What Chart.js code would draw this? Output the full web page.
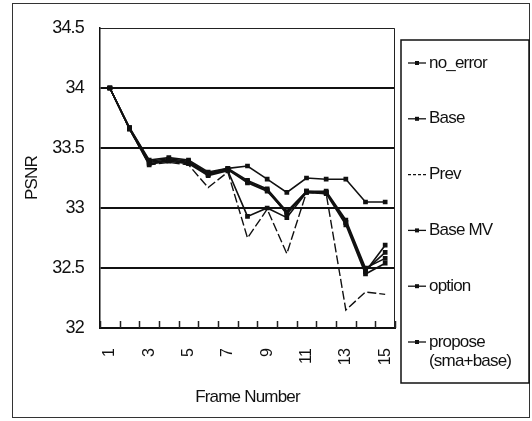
<!DOCTYPE html>
<html>
<head>
<meta charset="utf-8">
<script src="https://cdn.jsdelivr.net/npm/chart.js@4"></script>
<style>
  html, body { margin: 0; padding: 0; background: #fff; }
  #wrap { width: 532px; height: 421px; position: relative; }
</style>
</head>
<body>
<div id="wrap"><canvas id="psnr-graph"></canvas></div>
<script>
const frames = ['1', '2', '3', '4', '5', '6', '7', '8', '9', '10', '11', '12', '13', '14', '15'];
const yTicks = [32, 32.5, 33, 33.5, 34, 34.5];

const noError = [34.0, 33.67, 33.40, 33.42, 33.40, 33.30, 33.33, 33.35, 33.24, 33.13, 33.25, 33.24, 33.24, 33.05, 33.05];
const base    = [34.0, 33.66, 33.36, 33.40, 33.38, 33.28, 33.32, 33.22, 33.15, 32.95, 33.14, 33.13, 32.88, 32.47, 32.69];
const prev    = [34.0, 33.66, 33.36, 33.38, 33.36, 33.17, 33.30, 32.75, 32.99, 32.62, 33.13, 33.12, 32.15, 32.30, 32.28];
const baseMV  = [34.0, 33.66, 33.37, 33.39, 33.37, 33.27, 33.31, 32.93, 33.00, 32.92, 33.13, 33.12, 32.86, 32.45, 32.54];
const option  = [34.0, 33.66, 33.38, 33.40, 33.38, 33.28, 33.32, 33.21, 33.14, 32.96, 33.13, 33.13, 32.88, 32.48, 32.63];
const propose = [34.0, 33.67, 33.39, 33.41, 33.39, 33.29, 33.33, 33.23, 33.16, 32.97, 33.14, 33.14, 32.90, 32.50, 32.58];

const legendLabels = [['no_error'], ['Base'], ['Prev'], ['Base MV'], ['option'], ['propose', '(sma+base)']];

const FONT = "'Liberation Sans', Arial, sans-serif";

function series(label, data, dashed) {
    return {
        label,
        data,
        borderColor: '#111',
        backgroundColor: '#111',
        borderWidth: dashed ? 1.4 : 1.6,
        borderDash: dashed ? [9, 3] : [],
        pointRadius: dashed ? 0 : 2.2,
        pointStyle: 'rect',
        tension: 0
    };
}

// frame, inner ticks and legend box
const decor = {
    id: 'decor',
    beforeDraw(chart) {
        chart.ctx.letterSpacing = '-0.8px';
    },
    beforeDatasetsDraw(chart) {
        const {ctx, chartArea: a, scales: {x}} = chart;
        ctx.save();
        ctx.strokeStyle = '#222';
        ctx.lineWidth = 1;
        ctx.beginPath();
        ctx.moveTo(a.left, a.top + 0.5);
        ctx.lineTo(a.right - 0.5, a.top + 0.5);
        ctx.lineTo(a.right - 0.5, a.bottom);
        ctx.stroke();
        // small upward ticks at category boundaries
        const step = x.getPixelForValue(1) - x.getPixelForValue(0);
        ctx.lineWidth = 1.5;
        ctx.beginPath();
        for (let i = 0; i <= frames.length; i++) {
            const px = Math.round(x.getPixelForValue(i) - step / 2) + 0.5;
            ctx.moveTo(px, a.bottom);
            ctx.lineTo(px, a.bottom - 7);
        }
        ctx.stroke();
        ctx.restore();
    },
    afterDraw(chart) {
        const ctx = chart.ctx;
        ctx.save();
        ctx.strokeStyle = '#333';
        ctx.lineWidth = 1;
        ctx.strokeRect(12.5, 3.5, 517, 414);
        ctx.lineWidth = 1.5;
        ctx.strokeStyle = '#111';
        ctx.strokeRect(401, 40, 128, 343);

        ctx.font = '17px ' + FONT;
        ctx.fillStyle = '#111';
        ctx.textBaseline = 'middle';
        chart.data.datasets.forEach((ds, i) => {
            const y = 63 + i * 55.8;
            ctx.lineWidth = 1.3;
            ctx.setLineDash(ds.pointRadius > 0 ? [] : [3, 2]);
            ctx.beginPath();
            ctx.moveTo(408, y);
            ctx.lineTo(426, y);
            ctx.stroke();
            ctx.setLineDash([]);
            if (ds.pointRadius > 0) {
                ctx.fillRect(415, y - 2, 4, 4);
            }
            legendLabels[i].forEach((t, j) => ctx.fillText(t, 429, y + j * 19));
        });
        ctx.restore();
    }
};

new Chart(document.getElementById('psnr-graph'), {
    type: 'line',
    data: {
        labels: frames,
        datasets: [
            series('no_error', noError),
            series('Base', base),
            series('Prev', prev, true),
            series('Base MV', baseMV),
            series('option', option),
            series('propose (sma+base)', propose)
        ]
    },
    options: {
        responsive: true,
        maintainAspectRatio: false,
        animation: false,
        layout: {padding: {left: 12, right: 137, top: 28, bottom: 8}},
        plugins: {legend: {display: false}, tooltip: {enabled: false}},
        scales: {
            x: {
                offset: true,
                afterFit: s => { s.height = 85; },
                grid: {display: false, drawTicks: false},
                border: {display: true, color: '#111', width: 2},
                ticks: {
                    autoSkip: false,
                    minRotation: 90,
                    maxRotation: 90,
                    padding: 21,
                    color: '#111',
                    font: {family: FONT, size: 16},
                    callback: (v, i) => (i % 2 === 0 ? frames[i] : '')
                },
                title: {
                    display: true,
                    text: 'Frame Number',
                    color: '#111',
                    font: {family: FONT, size: 17},
                    padding: {top: 0, bottom: 5}
                }
            },
            y: {
                min: 32,
                max: 34.5,
                afterFit: s => { s.width = 88; },
                afterBuildTicks: s => { s.ticks = yTicks.map(v => ({value: v})); },
                grid: {
                    drawTicks: false,
                    color: c => (c.tick.value === 34.5 ? '#999' : '#111'),
                    lineWidth: c => (c.tick.value === 34.5 ? 1 : 2)
                },
                border: {display: true, color: '#111', width: 1.5},
                ticks: {
                    padding: 16,
                    color: '#111',
                    font: {family: FONT, size: 18},
                    callback: v => String(v)
                },
                title: {
                    display: true,
                    text: 'PSNR',
                    color: '#111',
                    font: {family: FONT, size: 17},
                    padding: {top: 10, bottom: 0}
                }
            }
        }
    },
    plugins: [decor]
});
</script>
</body>
</html>
